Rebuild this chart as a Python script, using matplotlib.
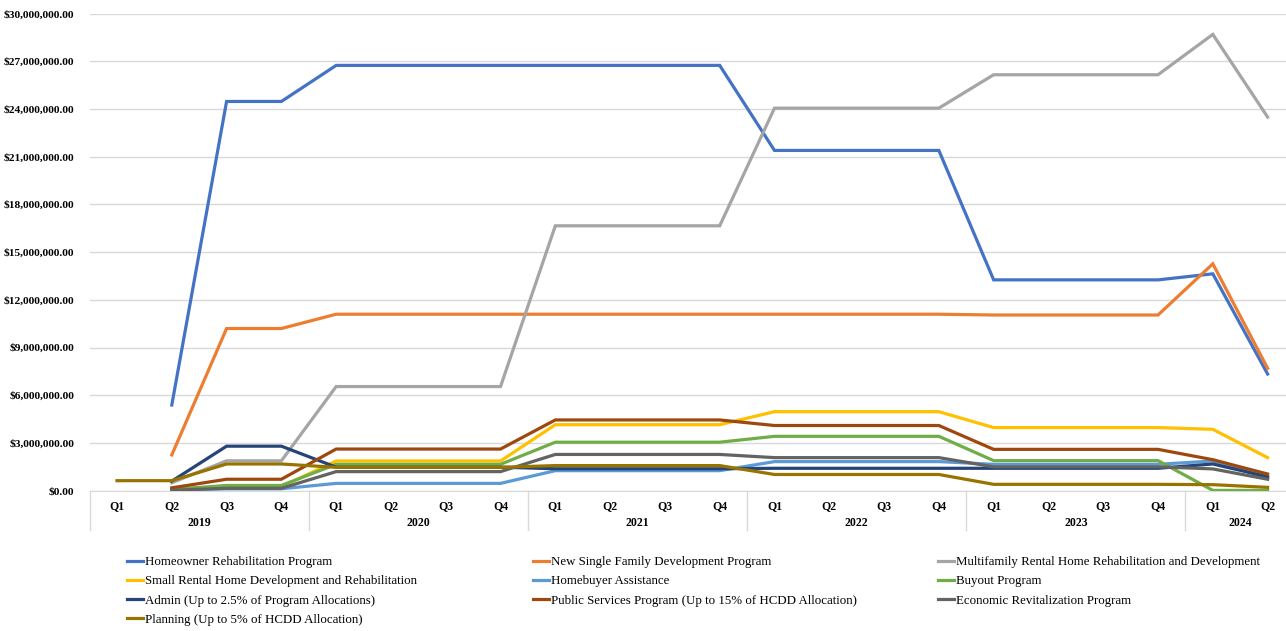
import numpy as np
import matplotlib
matplotlib.use("Agg")
import matplotlib.pyplot as plt
from matplotlib.ticker import FuncFormatter
from matplotlib.lines import Line2D

nan = np.nan

# quarters 2019 Q1 .. 2024 Q2, values in millions of dollars
quarters = ["Q1", "Q2", "Q3", "Q4"] * 5 + ["Q1", "Q2"]
years = ["2019", "2020", "2021", "2022", "2023", "2024"]
year_len = [4, 4, 4, 4, 4, 2]

homeowner = [nan, 5.39, 24.48, 24.48, 26.75, 26.75, 26.75, 26.75, 26.75, 26.75, 26.75, 26.75,
             21.4, 21.4, 21.4, 21.4, 13.26, 13.26, 13.26, 13.26, 13.64, 7.34]
single_family = [nan, 2.25, 10.2, 10.2, 11.1, 11.1, 11.1, 11.1, 11.1, 11.1, 11.1, 11.1,
                 11.1, 11.1, 11.1, 11.1, 11.05, 11.05, 11.05, 11.05, 14.27, 7.7]
multifamily = [nan, 0.5, 1.88, 1.88, 6.55, 6.55, 6.55, 6.55, 16.66, 16.66, 16.66, 16.66,
               24.06, 24.06, 24.06, 24.06, 26.16, 26.16, 26.16, 26.16, 28.7, 23.5]
small_rental = [nan, 0.1, 0.25, 0.25, 1.87, 1.87, 1.87, 1.87, 4.15, 4.15, 4.15, 4.15,
                4.97, 4.97, 4.97, 4.97, 3.97, 3.97, 3.97, 3.97, 3.86, 2.08]
homebuyer = [nan, 0.05, 0.12, 0.12, 0.46, 0.46, 0.46, 0.46, 1.26, 1.26, 1.26, 1.26,
             1.83, 1.83, 1.83, 1.83, 1.66, 1.66, 1.66, 1.66, 1.87, 0.8]
buyout = [nan, 0.08, 0.33, 0.33, 1.66, 1.66, 1.66, 1.66, 3.05, 3.05, 3.05, 3.05,
          3.42, 3.42, 3.42, 3.42, 1.89, 1.89, 1.89, 1.89, 0.02, 0.02]
admin = [nan, 0.6, 2.8, 2.8, 1.48, 1.48, 1.48, 1.48, 1.38, 1.38, 1.38, 1.38,
         1.41, 1.41, 1.41, 1.41, 1.41, 1.41, 1.41, 1.41, 1.68, 0.88]
public_services = [nan, 0.18, 0.72, 0.72, 2.62, 2.62, 2.62, 2.62, 4.45, 4.45, 4.45, 4.45,
                   4.1, 4.1, 4.1, 4.1, 2.6, 2.6, 2.6, 2.6, 1.95, 1.05]
economic = [nan, 0.03, 0.15, 0.15, 1.2, 1.2, 1.2, 1.2, 2.28, 2.28, 2.28, 2.28,
            2.08, 2.08, 2.08, 2.08, 1.5, 1.5, 1.5, 1.5, 1.37, 0.72]
planning = [0.63, 0.63, 1.68, 1.68, 1.47, 1.47, 1.47, 1.47, 1.58, 1.58, 1.58, 1.58,
            1.02, 1.02, 1.02, 1.02, 0.4, 0.4, 0.4, 0.4, 0.38, 0.21]

series = [
    ("Homeowner Rehabilitation Program", homeowner, "#4472C4"),
    ("New Single Family Development Program", single_family, "#ED7D31"),
    ("Multifamily Rental Home Rehabilitation and Development", multifamily, "#A5A5A5"),
    ("Small Rental Home Development and Rehabilitation", small_rental, "#FFC000"),
    ("Homebuyer Assistance", homebuyer, "#5B9BD5"),
    ("Buyout Program", buyout, "#70AD47"),
    ("Admin (Up to 2.5% of Program Allocations)", admin, "#264478"),
    ("Public Services Program (Up to 15% of HCDD Allocation)", public_services, "#9E480E"),
    ("Economic Revitalization Program", economic, "#636363"),
    ("Planning (Up to 5% of HCDD Allocation)", planning, "#997300"),
]

plt.rcParams["font.family"] = ["Liberation Serif", "DejaVu Serif"]

W, H = 1286, 631
fig = plt.figure(figsize=(W / 100, H / 100), dpi=100)
x0, x1 = 89.6, 1295
ytop, ybot = 13.7, 490.7
ax = fig.add_axes([x0 / W, (H - ybot) / H, (x1 - x0) / W, (ybot - ytop) / H])

x = np.arange(len(quarters))
handles = []
for name, vals, col in series:
    ln, = ax.plot(x, np.array(vals) * 1e6, color=col, lw=2.3, label=name,
                  solid_joinstyle="miter", zorder=3)
    handles.append(ln)

ax.set_xlim(-0.5, len(quarters) - 0.5)
ax.set_ylim(0, 30e6)
ax.set_yticks(np.arange(0, 30e6 + 1, 3e6))
ax.yaxis.set_major_formatter(FuncFormatter(lambda v, p: "${:,.2f}".format(v)))
ax.grid(axis="y", color="#D9D9D9", lw=1)
ax.set_axisbelow(True)
for s in ["top", "right", "left"]:
    ax.spines[s].set_visible(False)
ax.spines["bottom"].set_color("#D9D9D9")
ax.tick_params(axis="y", length=0, pad=11, labelsize=8.2)
for t in ax.get_yticklabels():
    t.set_fontweight("bold")

# two-level category axis
ax.set_xticks(x)
ax.set_xticklabels(quarters, fontsize=8.5, fontweight="bold")
ax.tick_params(axis="x", length=0, pad=7)
trans = ax.get_xaxis_transform()
start = 0
sep_bottom = -(530 - ybot) / (ybot - ytop)
year_y = -(523.5 - ybot) / (ybot - ytop)
for yr, n in zip(years, year_len):
    ax.text(start + (n - 1) / 2, year_y, yr, transform=trans, ha="center", va="center",
            fontsize=8.5, fontweight="bold")
    ax.add_line(Line2D([start - 0.5, start - 0.5], [0, sep_bottom], transform=trans,
                       color="#D9D9D9", lw=1, clip_on=False))
    start += n
ax.add_line(Line2D([start - 0.5, start - 0.5], [0, sep_bottom], transform=trans,
                   color="#D9D9D9", lw=1, clip_on=False))

# legend: three columns placed by hand
cols = [[0, 3, 6, 9], [1, 4, 7], [2, 5, 8]]
col_x = [127, 533, 938]
for cx, idx in zip(col_x, cols):
    fig.legend([handles[i] for i in idx], [series[i][0] for i in idx],
               loc="upper left", bbox_to_anchor=(cx / W, 1 - 556 / H),
               frameon=False, fontsize=9.3, handlelength=1.25, handletextpad=0.15,
               labelspacing=0.56, borderpad=0, borderaxespad=0)

fig.savefig("out.png", dpi=100)
